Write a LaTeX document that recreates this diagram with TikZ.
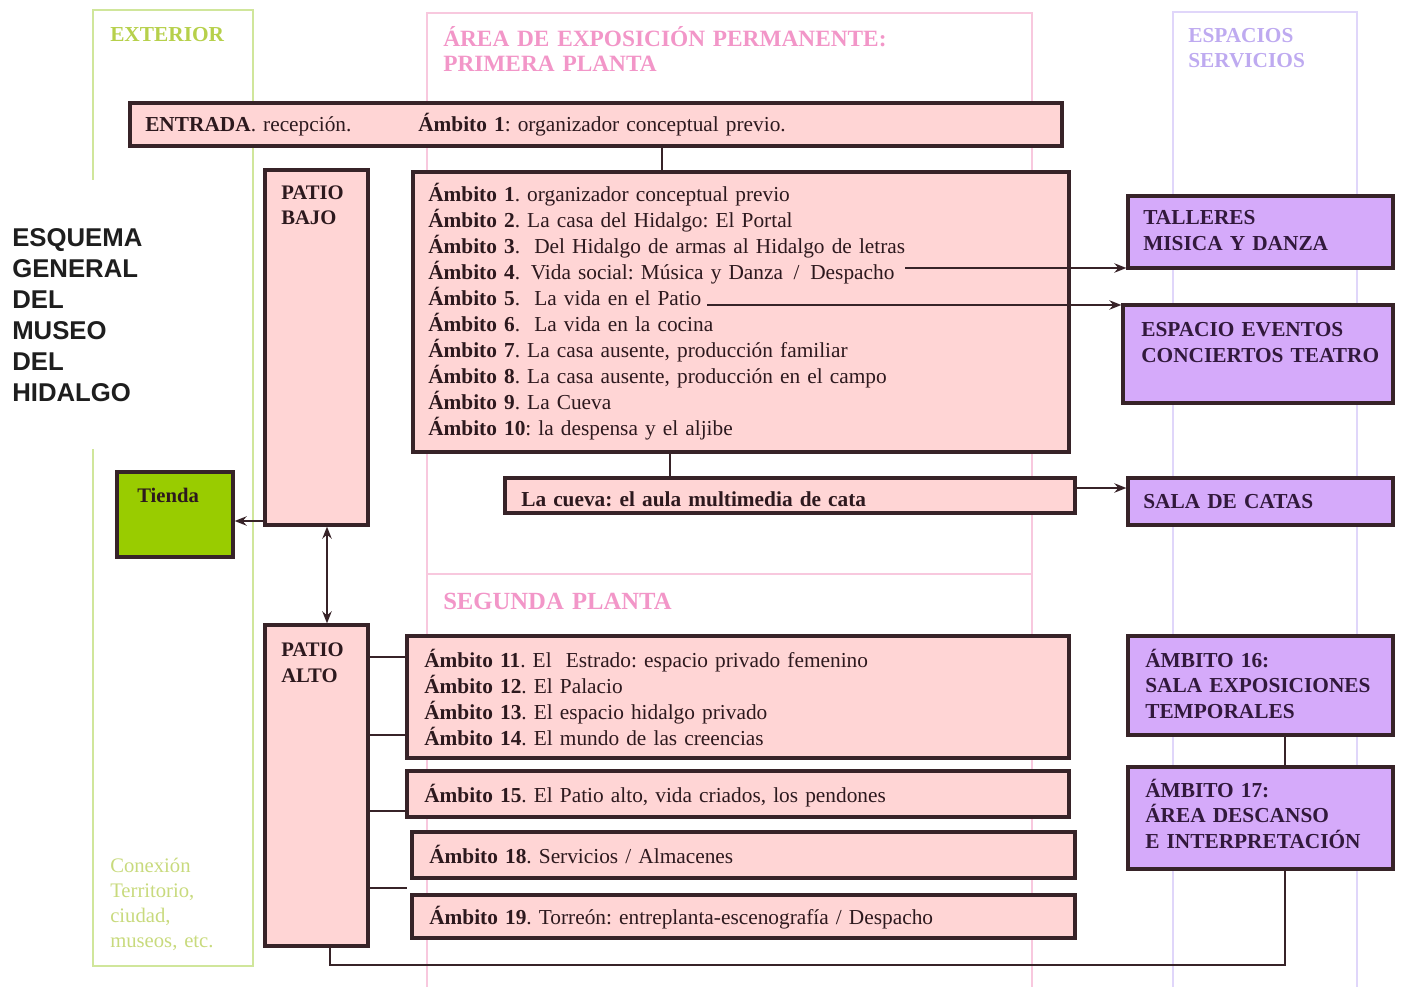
\documentclass[tikz,border=0pt]{standalone}
\usepackage{fontspec}
\setmainfont{Liberation Serif}
\newfontfamily\titlefont{Liberation Sans}
\usetikzlibrary{arrows.meta,fit}

\definecolor{boxline}{RGB}{55,35,40}
\definecolor{boxink}{RGB}{45,25,30}
\definecolor{lilaink}{RGB}{50,25,60}
\definecolor{pinkfill}{RGB}{255,213,213}
\definecolor{lilafill}{RGB}{213,170,250}
\definecolor{tiendafill}{RGB}{153,204,0}
\definecolor{greenframe}{RGB}{208,230,155}
\definecolor{pinkframe}{RGB}{248,200,222}
\definecolor{lilaframe}{RGB}{224,214,250}
\definecolor{greenhead}{RGB}{182,208,75}
\definecolor{pinkhead}{RGB}{242,150,200}
\definecolor{lilahead}{RGB}{190,170,240}
\definecolor{greensoft}{RGB}{200,218,125}

\begin{document}
\frenchspacing
\begin{tikzpicture}[x=0.75pt,y=0.75pt,yscale=-1,xscale=1,
    pinkbox/.style={draw=boxline, line width=2.4pt, fill=pinkfill, inner sep=0pt},
    lilabox/.style={draw=boxline, line width=2.4pt, fill=lilafill, inner sep=0pt},
    tiendabox/.style={draw=boxline, line width=2.4pt, fill=tiendafill, inner sep=0pt},
    boxtext/.style={inner sep=0pt, anchor=base west, align=left, text width=#1, text=boxink, font=\fontsize{16}{19.5}\selectfont},
    boxtext/.default=520pt,
    lilatext/.style={boxtext=190pt, text=lilaink, font=\bfseries\fontsize{16}{19.2}\selectfont},
    headtext/.style={inner sep=0pt, anchor=base west, align=left, text width=#1, font=\bfseries\fontsize{16}{18.75}\selectfont},
    conn/.style={draw=boxline, line width=1.8pt},
    arr/.style={conn, -{Stealth[length=9pt,width=7pt]}},
    dblarr/.style={conn, {Stealth[length=9pt,width=7pt]}-{Stealth[length=9pt,width=7pt]}},
  ]
  \useasboundingbox (0,0) rectangle (1402,987);

  %Shape: frame EXTERIOR
  \draw [draw=greenframe, line width=1.6pt] (93,180) -- (93,10) -- (253,10) -- (253,966) -- (93,966) -- (93,449) ;
  %Shape: frame AREA DE EXPOSICION
  \draw [draw=pinkframe, line width=1.1pt] (427,987) -- (427,13) -- (1032,13) -- (1032,987) ;
  \draw [draw=pinkframe, line width=1.1pt] (427,574) -- (1032,574) ;
  %Shape: frame ESPACIOS SERVICIOS
  \draw [draw=lilaframe, line width=1.5pt] (1173,987) -- (1173,12) -- (1357,12) -- (1357,987) ;

  % Text Node
  \node [headtext=120pt, text=greenhead] (exterior) at (110,42) {EXTERIOR};
  % Text Node
  \node [headtext=460pt, text=pinkhead, font=\bfseries\fontsize{17.5}{18.75}\selectfont] (primera) at (443,47) {ÁREA DE EXPOSICIÓN PERMANENTE:\\PRIMERA PLANTA};
  % Text Node
  \node [headtext=300pt, text=pinkhead, font=\bfseries\fontsize{18.5}{18.75}\selectfont] (segunda) at (443,609) {SEGUNDA PLANTA};
  % Text Node
  \node [headtext=140pt, text=lilahead] (espacios) at (1188,43) {ESPACIOS\\SERVICIOS};
  % Text Node
  \node [headtext=120pt, text=greensoft, font=\fontsize{15.5}{18.9}\selectfont] (conexion) at (110,872) {Conexión\\Territorio,\\ciudad,\\museos, etc.};
  % Text Node
  \node [inner sep=0pt, anchor=base west, align=left, text width=150pt, text={rgb,255:red,30;green,30;blue,30}, font=\titlefont\bfseries\fontsize{19.3}{23.25}\selectfont] (titulo) at (12,247) {ESQUEMA\\GENERAL\\DEL\\MUSEO\\DEL\\HIDALGO};

  %Shape: Rectangle ENTRADA
  \node [pinkbox, fit={(130,103) (1062,146)}] (entrada) {};
  \node [boxtext=200pt] (tEntrada) at (145,132) {\textbf{ENTRADA}. recepción.};
  \node [boxtext=460pt] (tEntradaAmb) at (418,132) {\textbf{Ámbito 1}: organizador conceptual previo.};
  %Shape: Rectangle PATIO BAJO
  \node [pinkbox, fit={(265,170) (368,525)}] (patiobajo) {};
  \node [boxtext=70pt, font=\bfseries\fontsize{15.5}{18.75}\selectfont] (tPatioBajo) at (281,200) {PATIO\\BAJO};
  %Shape: Rectangle Ambitos 1-10
  \node [pinkbox, fit={(413,172) (1069,452)}] (amb1) {};
  \node [boxtext] (tAmb1) at (428,202) {\textbf{Ámbito 1}. organizador conceptual previo\\
    \textbf{Ámbito 2}. La casa del Hidalgo: El Portal\\
    \textbf{Ámbito 3}.\ \ Del Hidalgo de armas al Hidalgo de letras\\
    \textbf{Ámbito 4}.\,\ Vida social: Música y Danza\, /\, Despacho\\
    \textbf{Ámbito 5}.\ \ La vida en el Patio\\
    \textbf{Ámbito 6}.\ \ La vida en la cocina\\
    \textbf{Ámbito 7}. La casa ausente, producción familiar\\
    \textbf{Ámbito 8}. La casa ausente, producción en el campo\\
    \textbf{Ámbito 9}. La Cueva\\
    \textbf{Ámbito 10}: la despensa y el aljibe};
  %Shape: Rectangle La cueva
  \node [pinkbox, fit={(505,478) (1075,513)}] (cueva) {};
  \node [boxtext=400pt] (tCueva) at (521,506) {\textbf{La cueva: el aula multimedia de cata}};
  %Shape: Rectangle Tienda
  \node [tiendabox, fit={(117,472) (233,557)}] (tienda) {};
  \node [boxtext=70pt, font=\bfseries\fontsize{15.5}{18.75}\selectfont] (tTienda) at (137,502) {Tienda};
  %Shape: Rectangle PATIO ALTO
  \node [pinkbox, fit={(265,625) (368,946)}] (patioalto) {};
  \node [boxtext=70pt, font=\bfseries\fontsize{15.5}{19.5}\selectfont] (tPatioAlto) at (281,656) {PATIO\\ALTO};
  %Shape: Rectangle Ambitos 11-14
  \node [pinkbox, fit={(407,636) (1069,758)}] (amb11) {};
  \node [boxtext] (tAmb11) at (424,667) {\textbf{Ámbito 11}. El\ \ Estrado: espacio privado femenino\\
    \textbf{Ámbito 12}. El Palacio\\
    \textbf{Ámbito 13}. El espacio hidalgo privado\\
    \textbf{Ámbito 14}. El mundo de las creencias};
  %Shape: Rectangle Ambito 15
  \node [pinkbox, fit={(407,771) (1069,817)}] (amb15) {};
  \node [boxtext] (tAmb15) at (424,802) {\textbf{Ámbito 15}. El Patio alto, vida criados, los pendones};
  %Shape: Rectangle Ambito 18
  \node [pinkbox, fit={(412,832) (1075,878)}] (amb18) {};
  \node [boxtext] (tAmb18) at (429,863) {\textbf{Ámbito 18}. Servicios / Almacenes};
  %Shape: Rectangle Ambito 19
  \node [pinkbox, fit={(412,895) (1075,938)}] (amb19) {};
  \node [boxtext] (tAmb19) at (429,924) {\textbf{Ámbito 19}. Torreón: entreplanta-escenografía / Despacho};

  %Shape: Rectangle TALLERES
  \node [lilabox, fit={(1128,196) (1393,268)}] (talleres) {};
  \node [lilatext] (tTalleres) at (1143,225) {TALLERES\\MISICA Y DANZA};
  %Shape: Rectangle ESPACIO EVENTOS
  \node [lilabox, fit={(1123,305) (1393,403)}] (espacio) {};
  \node [lilatext] (tEspacio) at (1141,337) {ESPACIO EVENTOS\\CONCIERTOS TEATRO};
  %Shape: Rectangle SALA DE CATAS
  \node [lilabox, fit={(1128,478) (1393,525)}] (catas) {};
  \node [lilatext] (tCatas) at (1143,508) {SALA DE CATAS};
  %Shape: Rectangle AMBITO 16
  \node [lilabox, fit={(1128,636) (1393,735)}] (amb16) {};
  \node [lilatext] (tAmb16) at (1145,667) {ÁMBITO 16:\\SALA EXPOSICIONES\\TEMPORALES};
  %Shape: Rectangle AMBITO 17
  \node [lilabox, fit={(1128,767) (1393,869)}] (amb17) {};
  \node [lilatext] (tAmb17) at (1145,797) {ÁMBITO 17:\\ÁREA DESCANSO\\E INTERPRETACIÓN};

  % Connection
  \draw [conn] (entrada.south -| 662,0) -- (amb1.north -| 662,0) ;
  % Connection
  \draw [conn] (amb1.south -| 670,0) -- (cueva.north -| 670,0) ;
  % Connection
  \coordinate (a4out) at (905,268);
  \draw [arr] (a4out) -- (a4out -| talleres.west) ;
  % Connection
  \coordinate (a5out) at (707,305);
  \draw [arr] (a5out) -- (a5out -| espacio.west) ;
  % Connection
  \draw [arr] (cueva.east |- 0,488) -- (catas.west |- 0,488) ;
  % Connection
  \draw [arr] (patiobajo.west |- 0,521) -- (tienda.east |- 0,521) ;
  % Connection
  \draw [dblarr] (patiobajo.south -| 327,0) -- (patioalto.north -| 327,0) ;
  % Connection
  \draw [conn] (patioalto.east |- 0,657) -- (amb11.west |- 0,657) ;
  \draw [conn] (patioalto.east |- 0,735) -- (amb11.west |- 0,735) ;
  \draw [conn] (patioalto.east |- 0,811) -- (amb15.west |- 0,811) ;
  \coordinate (stub) at (407,888);
  \draw [conn] (patioalto.east |- stub) -- (stub) ;
  % Connection
  \draw [conn] (patioalto.south -| 330,0) -- (330,965) -- (1285,965) -- (amb17.south -| 1285,0) ;
  % Connection
  \draw [conn] (amb16.south -| 1285,0) -- (amb17.north -| 1285,0) ;

\end{tikzpicture}
\end{document}
